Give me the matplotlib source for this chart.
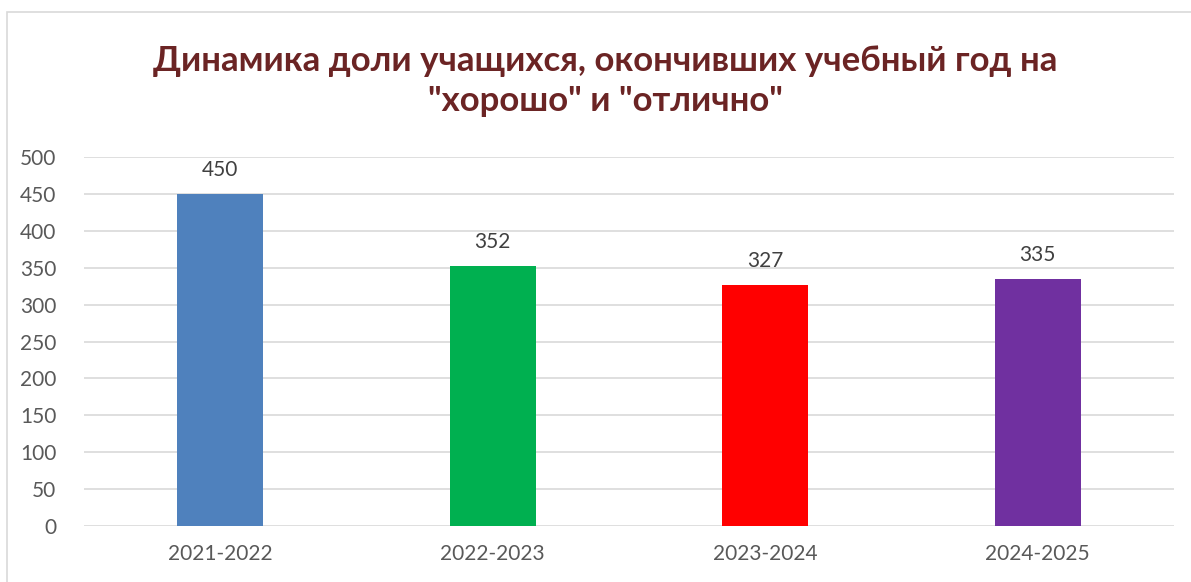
import matplotlib
matplotlib.use("Agg")
import matplotlib.pyplot as plt
from matplotlib.patches import Rectangle

years = ["2021-2022", "2022-2023", "2023-2024", "2024-2025"]
counts = [450, 352, 327, 335]
colors = ["#4F81BD", "#00B050", "#FF0000", "#7030A0"]
title = 'Динамика доли учащихся, окончивших учебный год на\n"хорошо" и "отлично"'

plt.rcParams['font.family'] = ['Lato', 'DejaVu Sans']

fig = plt.figure(figsize=(11.91, 5.82), dpi=100)
ax = fig.add_axes([84 / 1191, 1 - 526 / 582, 1090 / 1191, 369 / 582])

# chart border (cut off at right and bottom in the original)
fig.patches.append(Rectangle((7 / 1191, -0.1), 1.2, 1 - 12 / 582 + 0.1,
                             transform=fig.transFigure, fill=False,
                             edgecolor="#D9D9D9", linewidth=1.2))

x = list(range(len(years)))
bars = ax.bar(x, counts, width=0.316, color=colors, zorder=3)
for b, v in zip(bars, counts):
    ax.annotate(str(v), (b.get_x() + b.get_width() / 2, v), xytext=(0, 10),
                textcoords="offset points", ha="center", va="bottom",
                fontsize=15, color="#404040")

ax.set_xlim(-0.5, len(years) - 0.5)
ax.set_ylim(0, 500)
ax.set_yticks(range(0, 501, 50))
ax.set_xticks(x)
ax.set_xticklabels(years)
ax.grid(axis="y", color="#D9D9D9", linewidth=1.2, zorder=0)
ax.tick_params(axis="both", length=0, labelsize=15, labelcolor="#595959")
ax.tick_params(axis="x", pad=13)
ax.tick_params(axis="y", pad=20)
for s in ax.spines.values():
    s.set_visible(False)

fig.text(605 / 1191, 1 - 81 / 582, title, ha="center", va="center",
         fontsize=25, fontweight="bold", color="#6B2424", linespacing=1.3)

fig.savefig("out.png", dpi=100)
